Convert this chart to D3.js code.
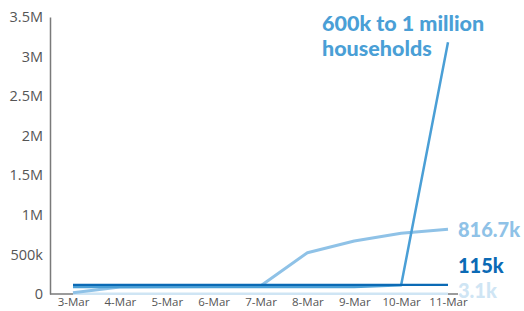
<!DOCTYPE html>
<html>
<head>
<meta charset="utf-8">
<script src="https://cdn.jsdelivr.net/npm/d3@7"></script>
<style>
  body { margin: 0; background: #fff; }
  svg { display: block; }
</style>
</head>
<body>
<div id="chart"></div>
<script>
// Chart data
const dates = ["3-Mar", "4-Mar", "5-Mar", "6-Mar", "7-Mar", "8-Mar", "9-Mar", "10-Mar", "11-Mar"];
const yTicks = [0, 500000, 1000000, 1500000, 2000000, 2500000, 3000000, 3500000];

const big_values = [90000, 90000, 90000, 90000, 90000, 90000, 90000, 110000, 3180000];
const mid_values = [16000, 88000, 92000, 95000, 100000, 522000, 670000, 767000, 816700];
const small_values = [115000, 115000, 115000, 115000, 115000, 115000, 115000, 115000, 115000];
const tiny_values = [3100, 3100, 3100, 3100, 3100, 3100, 3100, 3100, 3100];

const series_names = ["600k to 1 million households", "816.7k", "115k", "3.1k"];

const width = 524, height = 311;

const svg = d3.select("#chart").append("svg")
    .attr("width", width)
    .attr("height", height);

const x = d3.scalePoint().domain(dates).range([73, 448]);
const y = d3.scaleLinear().domain([0, 3500000]).range([294, 17]);

const fmt = v => v === 0 ? "0" : (v < 1e6 ? (v / 1000) + "k" : (v / 1e6) + "M");

// Y axis
const yAxis = svg.append("g")
    .attr("transform", "translate(50,0)")
    .call(d3.axisLeft(y).tickValues(yTicks).tickFormat(fmt).tickSize(0).tickPadding(7));
yAxis.select(".domain").attr("stroke", "#7a7a7a").attr("stroke-width", 1.5);
yAxis.selectAll("text")
    .attr("fill", "#555")
    .style("font-family", "'Open Sans', sans-serif")
    .style("font-size", "14.5px");

// X axis
const xAxis = svg.append("g")
    .attr("transform", "translate(0,294)")
    .call(d3.axisBottom(x).tickSize(0).tickPadding(4));
xAxis.select(".domain").remove();
xAxis.append("line")
    .attr("x1", 50).attr("x2", 458)
    .attr("stroke", "#7a7a7a").attr("stroke-width", 1.5);
xAxis.selectAll("text")
    .attr("fill", "#555")
    .style("font-family", "'Open Sans', sans-serif")
    .style("font-size", "11.5px");

// Lines
const line = d3.line()
    .x((d, i) => x(dates[i]))
    .y(d => y(d));

const lines = [
    { values: tiny_values, color: "#cfe5f4", width: 2.5 },
    { values: mid_values, color: "#8fc2e7", width: 3 },
    { values: big_values, color: "#4a9fd6", width: 2.5 },
    { values: small_values, color: "#0b6ab5", width: 2.2 }
];

for (const s of lines) {
    svg.append("path")
        .datum(s.values)
        .attr("fill", "none")
        .attr("stroke", s.color)
        .attr("stroke-width", s.width)
        .attr("stroke-linejoin", "round")
        .attr("d", line);
}

// Labels
const labelFont = "Lato, 'Open Sans', sans-serif";

const title = svg.append("text")
    .attr("x", 322)
    .attr("y", 31)
    .attr("fill", "#4a9fd6")
    .style("font-family", labelFont)
    .style("font-weight", "900")
    .style("font-size", "21.5px");
title.append("tspan").attr("x", 322).text("600k to 1 million");
title.append("tspan").attr("x", 322).attr("dy", 25).text("households");

const endLabels = [
    { text: series_names[1], value: mid_values[8], dy: 0, color: "#8fc2e7" },
    { text: series_names[2], value: small_values[8], dy: -20, color: "#0b6ab5" },
    { text: series_names[3], value: tiny_values[8], dy: -4, color: "#cfe5f4" }
];

svg.selectAll(".end-label")
    .data(endLabels)
    .enter().append("text")
    .attr("class", "end-label")
    .attr("x", x(dates[8]) + 10)
    .attr("y", d => y(d.value) + d.dy)
    .attr("dominant-baseline", "central")
    .attr("fill", d => d.color)
    .style("font-family", labelFont)
    .style("font-weight", "900")
    .style("font-size", "20px")
    .text(d => d.text);
</script>
</body>
</html>
